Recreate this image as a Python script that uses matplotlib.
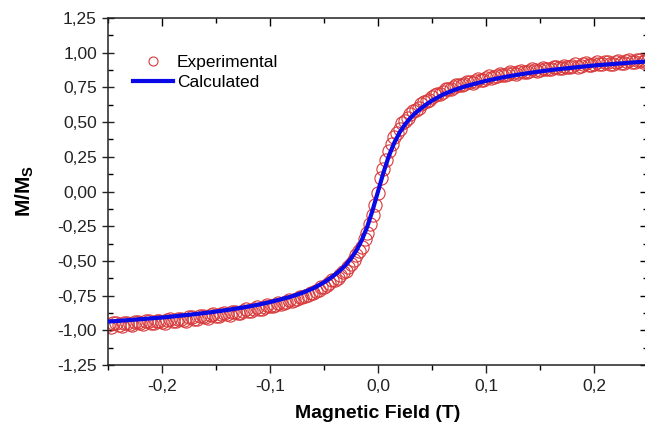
import matplotlib
matplotlib.use("Agg")
import matplotlib.pyplot as plt
from matplotlib.lines import Line2D

plt.rcParams['font.family'] = ['Liberation Sans', 'DejaVu Sans']
plt.rcParams['axes.unicode_minus'] = False
plt.rcParams['mathtext.fontset'] = 'custom'
plt.rcParams['mathtext.bf'] = 'Liberation Sans:bold'
plt.rcParams['mathtext.rm'] = 'Liberation Sans'

# ---- data ----
# experimental points, first sweep
exp_field = [
    -0.250, -0.245, -0.240, -0.235, -0.230, -0.225, -0.220, -0.215, -0.210, -0.205,
    -0.200, -0.195, -0.190, -0.185, -0.180, -0.175, -0.170, -0.165, -0.160, -0.155,
    -0.150, -0.145, -0.140, -0.135, -0.130, -0.125, -0.120, -0.115, -0.110, -0.105,
    -0.100, -0.095, -0.090, -0.085, -0.080, -0.075, -0.070, -0.065, -0.060, -0.055,
    -0.050, -0.045, -0.040, -0.035, -0.030, -0.025, -0.020, -0.015, -0.010, -0.005,
    0.000,
    0.005, 0.010, 0.015, 0.020, 0.025, 0.030, 0.035, 0.040, 0.045, 0.050,
    0.055, 0.060, 0.065, 0.070, 0.075, 0.080, 0.085, 0.090, 0.095, 0.100,
    0.105, 0.110, 0.115, 0.120, 0.125, 0.130, 0.135, 0.140, 0.145, 0.150,
    0.155, 0.160, 0.165, 0.170, 0.175, 0.180, 0.185, 0.190, 0.195, 0.200,
    0.205, 0.210, 0.215, 0.220, 0.225, 0.230, 0.235, 0.240, 0.245, 0.250,
]
exp_m = [
    -0.965, -0.950, -0.960, -0.945, -0.955, -0.940, -0.950, -0.935, -0.945, -0.930,
    -0.940, -0.925, -0.930, -0.915, -0.925, -0.905, -0.915, -0.900, -0.905, -0.890,
    -0.900, -0.885, -0.885, -0.870, -0.875, -0.860, -0.860, -0.845, -0.845, -0.830,
    -0.825, -0.815, -0.810, -0.795, -0.790, -0.775, -0.760, -0.745, -0.730, -0.710,
    -0.690, -0.660, -0.640, -0.600, -0.570, -0.520, -0.460, -0.400, -0.300, -0.170,
    -0.010,
    0.160, 0.290, 0.390, 0.450, 0.510, 0.560, 0.590, 0.630, 0.650, 0.680,
    0.700, 0.720, 0.740, 0.750, 0.765, 0.775, 0.790, 0.795, 0.800, 0.815,
    0.820, 0.835, 0.840, 0.845, 0.855, 0.860, 0.860, 0.870, 0.875, 0.875,
    0.885, 0.885, 0.895, 0.890, 0.900, 0.905, 0.900, 0.915, 0.910, 0.920,
    0.915, 0.930, 0.920, 0.935, 0.925, 0.940, 0.930, 0.945, 0.930, 0.950,
]
# experimental points, return sweep
exp_field2 = [
    -0.2475, -0.2425, -0.2375, -0.2325, -0.2275, -0.2225, -0.2175, -0.2125, -0.2075, -0.2025,
    -0.1975, -0.1925, -0.1875, -0.1825, -0.1775, -0.1725, -0.1675, -0.1625, -0.1575, -0.1525,
    -0.1475, -0.1425, -0.1375, -0.1325, -0.1275, -0.1225, -0.1175, -0.1125, -0.1075, -0.1025,
    -0.0975, -0.0925, -0.0875, -0.0825, -0.0775, -0.0725, -0.0675, -0.0625, -0.0575, -0.0525,
    -0.0475, -0.0425, -0.0375, -0.0325, -0.0275, -0.0225, -0.0175, -0.0125, -0.0075, -0.0025,
    0.0025, 0.0075, 0.0125, 0.0175, 0.0225, 0.0275, 0.0325, 0.0375, 0.0425, 0.0475,
    0.0525, 0.0575, 0.0625, 0.0675, 0.0725, 0.0775, 0.0825, 0.0875, 0.0925, 0.0975,
    0.1025, 0.1075, 0.1125, 0.1175, 0.1225, 0.1275, 0.1325, 0.1375, 0.1425, 0.1475,
    0.1525, 0.1575, 0.1625, 0.1675, 0.1725, 0.1775, 0.1825, 0.1875, 0.1925, 0.1975,
    0.2025, 0.2075, 0.2125, 0.2175, 0.2225, 0.2275, 0.2325, 0.2375, 0.2425, 0.2475,
]
exp_m2 = [
    -0.975, -0.950, -0.970, -0.945, -0.965, -0.940, -0.955, -0.935, -0.950, -0.930,
    -0.945, -0.920, -0.935, -0.915, -0.930, -0.905, -0.920, -0.895, -0.910, -0.885,
    -0.900, -0.875, -0.890, -0.865, -0.875, -0.850, -0.860, -0.835, -0.845, -0.820,
    -0.825, -0.800, -0.805, -0.780, -0.785, -0.760, -0.755, -0.730, -0.720, -0.690,
    -0.675, -0.640, -0.620, -0.580, -0.545, -0.490, -0.430, -0.345, -0.235, -0.100,
    0.100, 0.230, 0.340, 0.420, 0.490, 0.530, 0.580, 0.600, 0.645, 0.660,
    0.695, 0.705, 0.735, 0.740, 0.765, 0.765, 0.790, 0.785, 0.810, 0.805,
    0.830, 0.825, 0.845, 0.840, 0.860, 0.850, 0.870, 0.860, 0.880, 0.870,
    0.890, 0.880, 0.900, 0.890, 0.905, 0.895, 0.915, 0.905, 0.925, 0.910,
    0.930, 0.915, 0.935, 0.920, 0.940, 0.925, 0.945, 0.935, 0.950, 0.940,
]

calc_field = [
    -0.25, -0.24, -0.23, -0.22, -0.21, -0.20, -0.19, -0.18, -0.17, -0.16,
    -0.15, -0.14, -0.13, -0.12, -0.11, -0.10, -0.09, -0.08, -0.07, -0.06,
    -0.050, -0.045, -0.040, -0.035, -0.030, -0.025, -0.020, -0.015, -0.010, -0.005,
    0.000,
    0.005, 0.010, 0.015, 0.020, 0.025, 0.030, 0.035, 0.040, 0.045, 0.050,
    0.06, 0.07, 0.08, 0.09, 0.10, 0.11, 0.12, 0.13, 0.14, 0.15,
    0.16, 0.17, 0.18, 0.19, 0.20, 0.21, 0.22, 0.23, 0.24, 0.25,
]
calc_m = [
    -0.937, -0.932, -0.926, -0.920, -0.914, -0.908, -0.900, -0.892, -0.884, -0.875,
    -0.865, -0.854, -0.842, -0.829, -0.814, -0.797, -0.777, -0.756, -0.730, -0.698,
    -0.655, -0.629, -0.600, -0.568, -0.530, -0.483, -0.425, -0.350, -0.255, -0.135,
    0.000,
    0.135, 0.255, 0.350, 0.425, 0.483, 0.530, 0.568, 0.600, 0.629, 0.655,
    0.698, 0.730, 0.756, 0.777, 0.797, 0.814, 0.829, 0.842, 0.854, 0.865,
    0.875, 0.884, 0.892, 0.900, 0.908, 0.914, 0.920, 0.926, 0.932, 0.937,
]

x_ticks = [-0.2, -0.1, 0.0, 0.1, 0.2]
x_ticklabels = ['-0,2', '-0,1', '0,0', '0,1', '0,2']
x_minor = [-0.25, -0.15, -0.05, 0.05, 0.15, 0.25]
y_ticks = [-1.25, -1.0, -0.75, -0.5, -0.25, 0.0, 0.25, 0.5, 0.75, 1.0, 1.25]
y_ticklabels = ['-1,25', '-1,00', '-0,75', '-0,50', '-0,25', '0,00',
                '0,25', '0,50', '0,75', '1,00', '1,25']
y_minor = [-1.125, -0.875, -0.625, -0.375, -0.125, 0.125, 0.375, 0.625, 0.875, 1.125]

# ---- figure ----
W, H = 645, 433
fig = plt.figure(figsize=(W / 100, H / 100), dpi=100)
ax = fig.add_axes([108 / W, 1 - 365 / H, 540 / W, (365 - 18) / H])

red = '#d8393a'
blue = '#0a0ae6'
ax.plot(exp_field, exp_m, linestyle='none', marker='o', ms=9.5,
        mfc='none', mec=red, mew=0.8, zorder=2)
ax.plot(exp_field2, exp_m2, linestyle='none', marker='o', ms=9.5,
        mfc='none', mec=red, mew=0.8, zorder=2)
ax.plot(calc_field, calc_m, color=blue, lw=3.0, zorder=3)

ax.set_xlim(-0.25, 0.25)
ax.set_ylim(-1.25, 1.25)
ax.set_xticks(x_ticks)
ax.set_xticklabels(x_ticklabels)
ax.set_xticks(x_minor, minor=True)
ax.set_yticks(y_ticks)
ax.set_yticklabels(y_ticklabels)
ax.set_yticks(y_minor, minor=True)

for s in ax.spines.values():
    s.set_linewidth(1.1)
    s.set_color('#222222')

ax.tick_params(axis='x', which='major', direction='out', length=6, width=1.0,
               pad=4, labelsize=12.5, colors='#222222', top=False)
ax.tick_params(axis='x', which='minor', direction='out', length=3.5, width=1.0,
               top=False)
ax.tick_params(axis='y', which='major', direction='inout', length=8, width=1.0,
               pad=4, labelsize=12.5, colors='#222222', right=False)
ax.tick_params(axis='y', which='minor', direction='in', length=3.5, width=1.0,
               right=False)

# mirrored inward ticks on top and right
sec_x = ax.secondary_xaxis('top')
sec_x.set_xticks(x_ticks)
sec_x.set_xticks(x_minor, minor=True)
sec_x.tick_params(which='major', direction='in', length=6, width=1.0, labeltop=False)
sec_x.tick_params(which='minor', direction='in', length=3.5, width=1.0)
sec_x.spines['top'].set_visible(False)
sec_y = ax.secondary_yaxis('right')
sec_y.set_yticks(y_ticks)
sec_y.set_yticks(y_minor, minor=True)
sec_y.tick_params(which='major', direction='in', length=6, width=1.0, labelright=False)
sec_y.tick_params(which='minor', direction='in', length=3.5, width=1.0)
sec_y.spines['right'].set_visible(False)

ax.set_xlabel('Magnetic Field (T)', fontsize=14, fontweight='bold', labelpad=8)
ax.set_ylabel(r'$\mathbf{M/M_S}$', fontsize=15, labelpad=15)

handles = [
    Line2D([], [], linestyle='none', marker='o', ms=6.5, mfc='none', mec=red, mew=0.8),
    Line2D([], [], color=blue, lw=3.0),
]
fig.legend(handles, ['Experimental', 'Calculated'], loc='upper left',
           bbox_to_anchor=(133 / W, 1 - 55 / H), frameon=False, fontsize=12.5,
           handlelength=2.3, handletextpad=0.23, labelspacing=0.28,
           borderpad=0, borderaxespad=0)

fig.savefig('out.png', dpi=100)
